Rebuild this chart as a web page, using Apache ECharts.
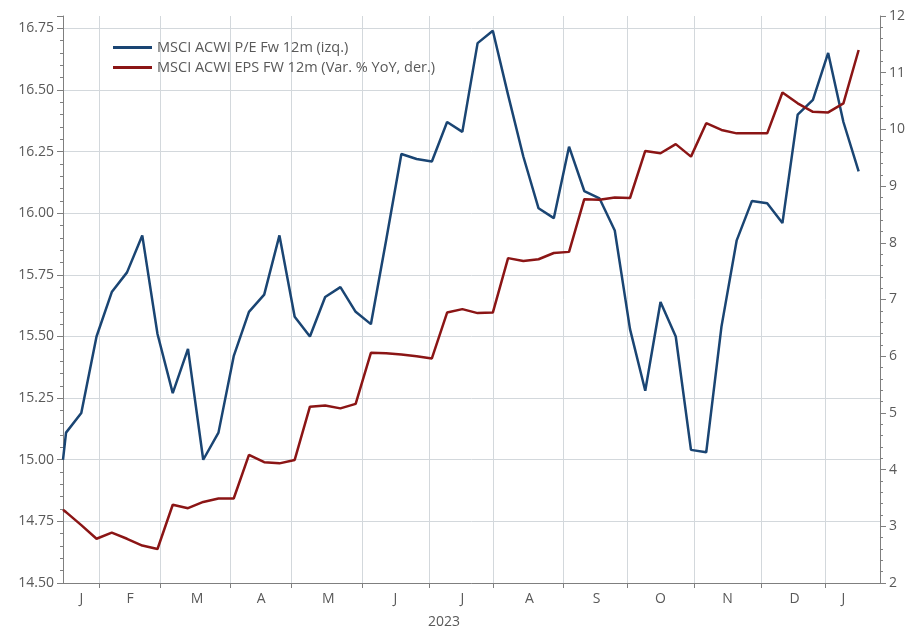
<!DOCTYPE html>
<html><head><meta charset="utf-8">
<script src="https://cdn.jsdelivr.net/npm/echarts@6/dist/echarts.min.js"></script>
<style>html,body{margin:0;padding:0;background:#fff}#c{width:908px;height:629px}</style>
</head><body><div id="c"></div>
<script>
// Axis span (business days)
const axisStart = '2023-01-16';
const axisEnd = '2024-01-25';
const monthLetters = ['J','F','M','A','M','J','J','A','S','O','N','D'];
const yearLabel = '2023';
const seriesNames = ['MSCI ACWI P/E Fw 12m (izq.)', 'MSCI ACWI EPS FW 12m (Var. % YoY, der.)'];

// Observation dates
const pointDates = [
 '2023-01-16','2023-01-17','2023-01-24','2023-01-31','2023-02-07','2023-02-14','2023-02-21','2023-02-28',
 '2023-03-07','2023-03-14','2023-03-21','2023-03-28','2023-04-04','2023-04-11','2023-04-18','2023-04-25',
 '2023-05-02','2023-05-09','2023-05-16','2023-05-23','2023-05-30','2023-06-06','2023-06-13','2023-06-20',
 '2023-06-27','2023-07-04','2023-07-11','2023-07-18','2023-07-25','2023-08-01','2023-08-08','2023-08-15',
 '2023-08-22','2023-08-29','2023-09-05','2023-09-12','2023-09-19','2023-09-26','2023-10-03','2023-10-10',
 '2023-10-17','2023-10-24','2023-10-31','2023-11-07','2023-11-14','2023-11-21','2023-11-28','2023-12-05',
 '2023-12-12','2023-12-19','2023-12-26','2024-01-02','2024-01-09','2024-01-16'
];
// P/E forward 12m (left axis)
const peValues = [
 15.00,15.11,15.19,15.50,15.68,15.76,15.91,15.51,
 15.27,15.45,15.00,15.11,15.42,15.60,15.67,15.91,
 15.58,15.50,15.66,15.70,15.60,15.55,15.89,16.24,
 16.22,16.21,16.37,16.33,16.69,16.74,16.48,16.23,
 16.02,15.98,16.27,16.09,16.06,15.93,15.53,15.28,
 15.64,15.50,15.04,15.03,15.54,15.89,16.05,16.04,
 15.96,16.40,16.46,16.65,16.37,16.17
];
// EPS forward 12m YoY % (right axis)
const epsValues = [
 3.29,3.25,3.02,2.78,2.89,2.78,2.66,2.60,
 3.38,3.32,3.43,3.49,3.49,4.26,4.13,4.11,
 4.17,5.11,5.13,5.08,5.16,6.06,6.05,6.03,
 6.00,5.96,6.77,6.83,6.76,6.77,7.73,7.68,
 7.71,7.82,7.84,8.77,8.76,8.80,8.79,9.62,
 9.58,9.74,9.52,10.11,9.99,9.93,9.93,9.93,
 10.65,10.46,10.31,10.30,10.46,11.40
];

// Build business-day categories
function pad(n){return n<10?'0'+n:''+n;}
const cats = [];
{
  let d = new Date(axisStart+'T00:00:00Z');
  const end = new Date(axisEnd+'T00:00:00Z');
  while (d <= end) {
    const w = d.getUTCDay();
    if (w !== 0 && w !== 6) cats.push(d.getUTCFullYear()+'-'+pad(d.getUTCMonth()+1)+'-'+pad(d.getUTCDate()));
    d = new Date(d.getTime()+86400000);
  }
}
const idxOf = {};
cats.forEach((c,i)=>idxOf[c]=i);
const peData = cats.map(()=>null);
const epsData = cats.map(()=>null);
pointDates.forEach((d,i)=>{ const k = idxOf[d]; peData[k]=peValues[i]; epsData[k]=epsValues[i]; });
const lastDataIdx = idxOf[pointDates[pointDates.length-1]];

// Month groups
const monthStarts = [0];
for (let i=1;i<cats.length;i++) if (cats[i].slice(0,7)!==cats[i-1].slice(0,7)) monthStarts.push(i);
const boundarySet = new Set(monthStarts.slice(1));
const labelSet = new Set();
for (let m=0;m<monthStarts.length;m++){
  const s = monthStarts[m];
  let e = m+1<monthStarts.length ? monthStarts[m+1] : Math.min(cats.length, lastDataIdx+1);
  labelSet.add(Math.round((s+e)/2));
}
let yearEnd = cats.findIndex(c=>c.slice(0,4)!==yearLabel);
const yearIdx = Math.round((0+yearEnd)/2);

const gridColor = '#d3d8dc';
const axisColor = '#7f7f7f';
const textColor = '#595959';
const font = 'Open Sans';
const blue = '#1a4573';
const red = '#8b1515';

const chart = echarts.init(document.getElementById('c'));
chart.setOption({
  animation:false,
  backgroundColor:'#fff',
  grid:{left:63,right:26,top:16,bottom:46,containLabel:false},
  legend:{
    data:[{name:seriesNames[0],icon:'rect',itemStyle:{color:blue}},{name:seriesNames[1],icon:'rect',itemStyle:{color:red}}],
    orient:'vertical', left:113, top:40, padding:0,
    itemWidth:39, itemHeight:3, itemGap:5,
    textStyle:{color:textColor,fontSize:14.5,fontFamily:font}
  },
  xAxis:[{
    type:'category', data:cats, boundaryGap:false,
    axisLine:{show:true,lineStyle:{color:axisColor,width:1}},
    axisTick:{show:true,length:5,interval:(i)=>boundarySet.has(i),lineStyle:{color:axisColor}},
    axisLabel:{interval:(i)=>labelSet.has(i),margin:9,color:textColor,fontSize:14,fontFamily:font,
      formatter:(v)=>monthLetters[parseInt(v.slice(5,7),10)-1]},
    splitLine:{show:true,interval:(i)=>boundarySet.has(i),lineStyle:{color:gridColor,width:1}}
  },{
    type:'category', data:cats, boundaryGap:false, position:'bottom', offset:23,
    axisLine:{show:false}, axisTick:{show:false}, splitLine:{show:false},
    axisLabel:{interval:(i)=>i===yearIdx,margin:9,color:textColor,fontSize:14,fontFamily:font,formatter:()=>yearLabel}
  }],
  yAxis:[{
    type:'value', position:'left', min:14.5, max:16.8, interval:0.25,
    axisLine:{show:true,lineStyle:{color:axisColor}},
    axisTick:{show:true,length:6,lineStyle:{color:axisColor}},
    minorTick:{show:true,splitNumber:5,length:3,lineStyle:{color:axisColor}},
    axisLabel:{formatter:(v)=>v.toFixed(2),showMaxLabel:false,margin:9,color:textColor,fontSize:14,fontFamily:font},
    splitLine:{show:true,showMaxLine:false,lineStyle:{color:gridColor,width:1}}
  },{
    type:'value', position:'right', min:2, max:12, interval:1,
    axisLine:{show:true,lineStyle:{color:axisColor}},
    axisTick:{show:true,length:6,lineStyle:{color:axisColor}},
    minorTick:{show:true,splitNumber:5,length:3,lineStyle:{color:axisColor}},
    axisLabel:{margin:9,color:textColor,fontSize:14,fontFamily:font},
    splitLine:{show:false}
  }],
  series:[{
    name:seriesNames[0], type:'line', xAxisIndex:0, yAxisIndex:0, data:peData, connectNulls:true,
    symbol:'none', lineStyle:{color:blue,width:2.5}, itemStyle:{color:blue}
  },{
    name:seriesNames[1], type:'line', xAxisIndex:0, yAxisIndex:1, data:epsData, connectNulls:true,
    symbol:'none', lineStyle:{color:red,width:2.5}, itemStyle:{color:red}
  }]
});
</script>
</body></html>
